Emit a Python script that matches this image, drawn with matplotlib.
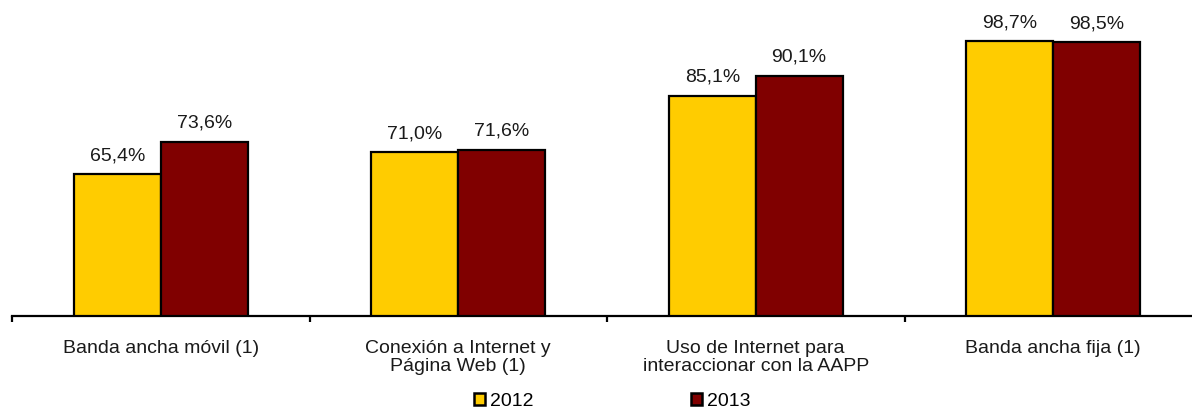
import matplotlib
matplotlib.use("Agg")
import matplotlib.pyplot as plt
import numpy as np
from matplotlib.patches import Patch

categories = ["Banda ancha móvil (1)", "Conexión a Internet y\nPágina Web (1)",
              "Uso de Internet para\ninteraccionar con la AAPP", "Banda ancha fija (1)"]
series_names = ["2012", "2013"]
values_2012 = [65.4, 71.0, 85.1, 98.7]
values_2013 = [73.6, 71.6, 90.1, 98.5]
colors = ["#FFCC00", "#800000"]

plt.rcParams['font.family'] = ['Liberation Sans', 'DejaVu Sans']
FS = 14

fig = plt.figure(figsize=(11.92, 4.10), dpi=100)
W, H = 1192, 410
cat_w = 297.5
left = 12 / W
ax = fig.add_axes([left, 93 / H, 4 * cat_w / W, 280 / H])

x = np.arange(len(categories))
bw = 0.292
for i, (vals, c) in enumerate(zip([values_2012, values_2013], colors)):
    pos = x + (i - 0.5) * bw
    ax.bar(pos, np.array(vals) - 30, bottom=30, width=bw, color=c,
           edgecolor="black", linewidth=1.6, zorder=3)
    for p, v in zip(pos, vals):
        ax.text(p, v + 2.7, f"{v:.1f}%".replace(".", ","), ha="center", va="bottom",
                fontsize=FS, color="#1a1a1a", clip_on=False)

ax.set_xlim(-0.5, 3.5)
ax.set_ylim(30, 100)
for s in ["top", "right", "left"]:
    ax.spines[s].set_visible(False)
ax.spines["bottom"].set_linewidth(1.6)
ax.set_yticks([])
ax.set_xticks([-0.5, 0.5, 1.5, 2.5, 3.5])
ax.set_xticklabels([])
ax.tick_params(axis="x", length=4, width=1.6, direction="out")
for xi, lab in zip(x, categories):
    ax.text(xi, 30 - 23 / 4, lab, ha="center", va="top", fontsize=FS, color="#1a1a1a",
            linespacing=1.05, clip_on=False)

handles = [Patch(facecolor=c, edgecolor="black", linewidth=1.8) for c in colors]
fig.legend(handles, series_names, loc="center", bbox_to_anchor=(612 / W, 1 - 402 / H),
           ncol=2, frameon=False, fontsize=FS, handlelength=0.57, handleheight=0.57,
           handletextpad=0.25, columnspacing=8.1, borderpad=0)

fig.savefig("out.png", dpi=100)
